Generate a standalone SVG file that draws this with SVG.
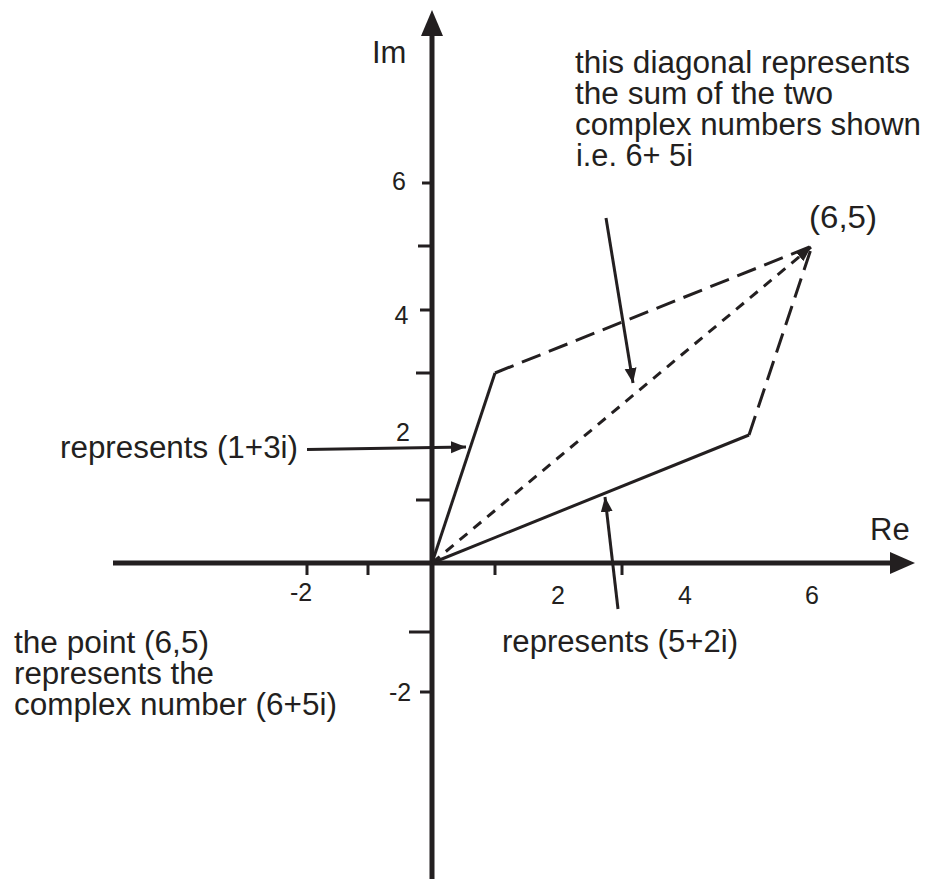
<svg xmlns="http://www.w3.org/2000/svg" width="931" height="879" viewBox="0 0 931 879">
<style>
text{font-family:"Liberation Sans",Arial,sans-serif;fill:#231f20}
.t{font-size:31px}
.n{font-size:25px}
.ax{stroke:#231f20;stroke-width:5;fill:none}
.tk{stroke:#231f20;stroke-width:3;fill:none}
.ln{stroke:#231f20;stroke-width:3;fill:none}
.da{stroke-dasharray:20 9}
.do{stroke-dasharray:10 8}
</style>
<defs>
<marker id="ah" markerUnits="userSpaceOnUse" markerWidth="16" markerHeight="14" refX="15" refY="6" orient="auto">
<path d="M0,0 L15,6 L0,12 Z" fill="#231f20"/>
</marker>
</defs>
<rect width="931" height="879" fill="#ffffff"/>
<g id="axes">
<line class="ax" x1="432" y1="34" x2="432" y2="879"/>
<polygon points="432,10 421,36 443,36" fill="#231f20"/>
<line class="ax" x1="113" y1="563" x2="892" y2="563"/>
<polygon points="915,563 890,552 890,574" fill="#231f20"/>
</g>
<g id="ticks">
<line class="tk" x1="422" y1="183" x2="432" y2="183"/>
<line class="tk" x1="418" y1="246" x2="432" y2="246"/>
<line class="tk" x1="420" y1="310" x2="432" y2="310"/>
<line class="tk" x1="416" y1="373" x2="432" y2="373"/>
<line class="tk" x1="416" y1="500" x2="432" y2="500"/>
<line class="tk" x1="409" y1="632" x2="432" y2="632"/>
<line class="tk" x1="420" y1="692" x2="432" y2="692"/>
<line class="tk" x1="307" y1="563" x2="307" y2="575"/>
<line class="tk" x1="368" y1="563" x2="368" y2="575"/>
<line class="tk" x1="495" y1="563" x2="495" y2="575"/>
<line class="tk" x1="622" y1="563" x2="622" y2="575"/>
</g>
<g id="labels">
<text class="t" x="372" y="63">Im</text>
<text class="t" x="870" y="540">Re</text>
<text class="n" x="399" y="190" text-anchor="middle">6</text>
<text class="n" x="401.5" y="324" text-anchor="middle">4</text>
<text class="n" x="403" y="441" text-anchor="middle">2</text>
<text class="n" x="400" y="701" text-anchor="middle">-2</text>
<text class="n" x="301" y="601" text-anchor="middle">-2</text>
<text class="n" x="558" y="604" text-anchor="middle">2</text>
<text class="n" x="685" y="604" text-anchor="middle">4</text>
<text class="n" x="812" y="604" text-anchor="middle">6</text>
</g>
<g id="parallelogram">
<line class="ln" x1="432" y1="563" x2="495" y2="373"/>
<line class="ln" x1="432" y1="563" x2="749" y2="435"/>
<line class="ln da" x1="495" y1="373" x2="812" y2="246"/>
<line class="ln da" x1="749" y1="435" x2="812" y2="246"/>
<line class="ln do" x1="432" y1="563" x2="811" y2="247" marker-end="url(#ah)"/>
</g>
<g id="connectors">
<line class="ln" x1="307" y1="449.5" x2="466" y2="447" marker-end="url(#ah)"/>
<line class="ln" x1="606" y1="218" x2="633" y2="383" marker-end="url(#ah)"/>
<line class="ln" x1="618" y1="609" x2="605" y2="497" marker-end="url(#ah)"/>
</g>
<g id="note-diagonal">
<text class="t" x="575" y="73" textLength="335" lengthAdjust="spacingAndGlyphs">this diagonal represents</text>
<text class="t" x="575" y="104" textLength="258" lengthAdjust="spacingAndGlyphs">the sum of the two</text>
<text class="t" x="575" y="135" textLength="346" lengthAdjust="spacingAndGlyphs">complex numbers shown</text>
<text class="t" x="576" y="166" textLength="117" lengthAdjust="spacingAndGlyphs">i.e. 6+ 5i</text>
</g>
<g id="note-point">
<text class="t" x="809" y="228" textLength="68" lengthAdjust="spacingAndGlyphs">(6,5)</text>
</g>
<g id="note-1-3i">
<text class="t" x="60" y="458" textLength="238" lengthAdjust="spacingAndGlyphs">represents (1+3i)</text>
</g>
<g id="note-5-2i">
<text class="t" x="502" y="652" textLength="236" lengthAdjust="spacingAndGlyphs">represents (5+2i)</text>
</g>
<g id="note-6-5i">
<text class="t" x="14" y="653" textLength="195" lengthAdjust="spacingAndGlyphs">the point (6,5)</text>
<text class="t" x="14" y="684" textLength="200" lengthAdjust="spacingAndGlyphs">represents the</text>
<text class="t" x="14" y="715" textLength="323" lengthAdjust="spacingAndGlyphs">complex number (6+5i)</text>
</g>
</svg>
